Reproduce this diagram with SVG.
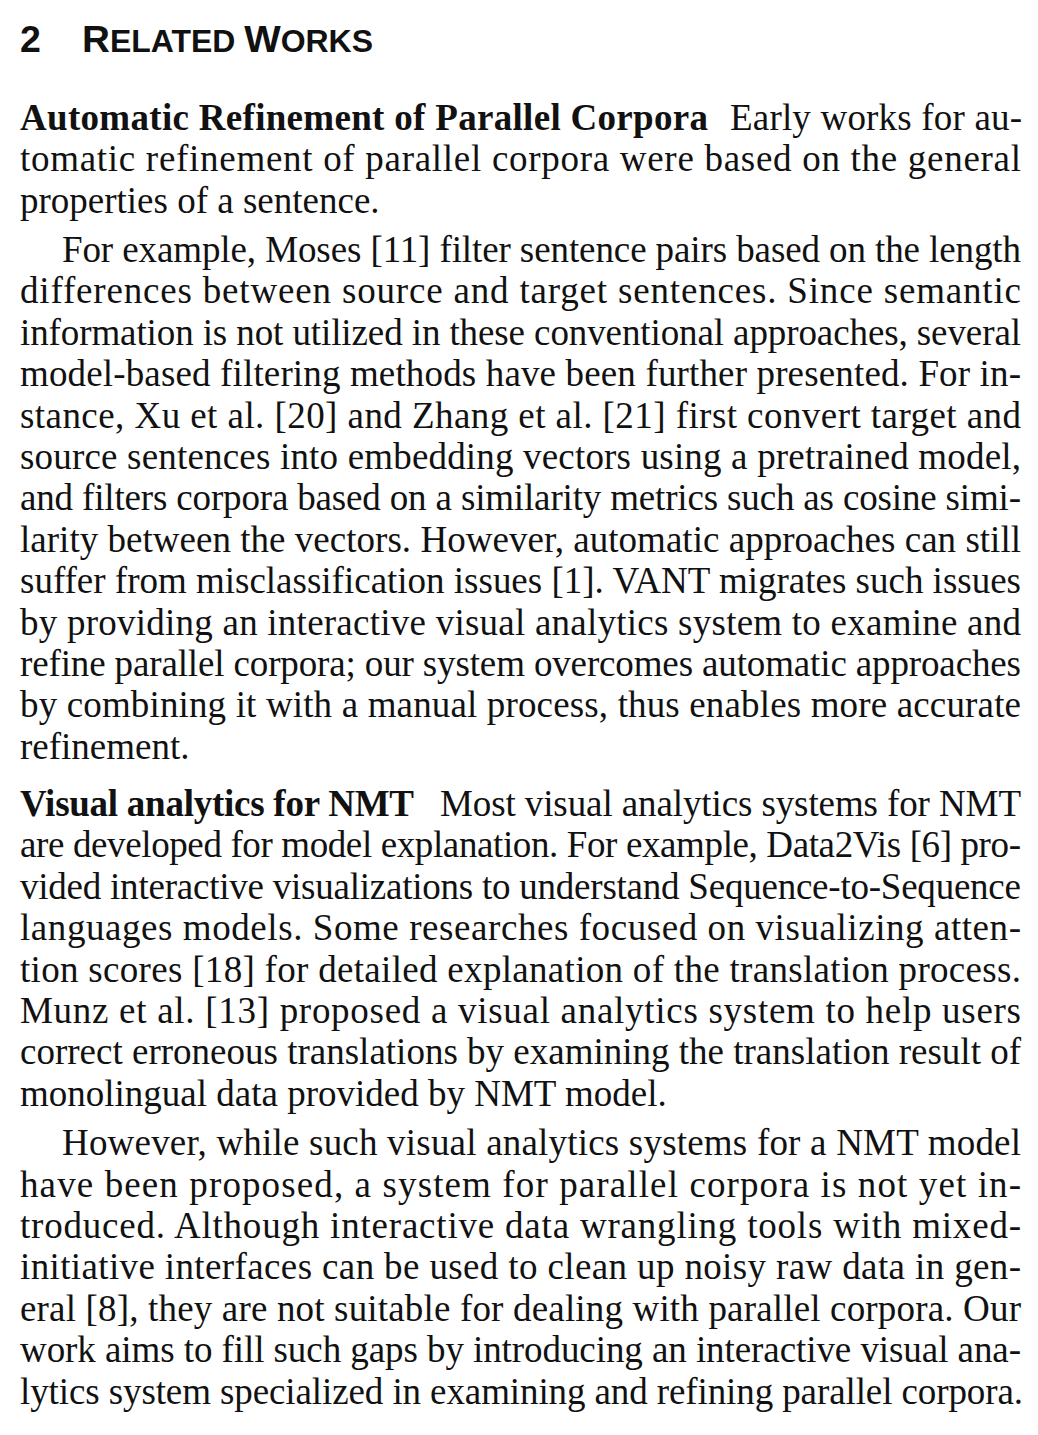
<svg xmlns="http://www.w3.org/2000/svg" width="1038" height="1435" viewBox="0 0 1038 1435">
<style>
.t{font-family:"Liberation Serif","Times New Roman",serif;font-size:37px;fill:#111;}
.b{font-weight:bold;}
.h{font-family:"Liberation Sans",Arial,sans-serif;font-weight:bold;fill:#111;}
</style>
<rect width="1038" height="1435" fill="#fff"/>
<g id="title">
<text class="h" x="20" y="52" font-size="37.5">2</text>
<text class="h" x="82" y="52" font-size="31" textLength="291" lengthAdjust="spacingAndGlyphs"><tspan font-size="37.5">R</tspan>ELATED <tspan font-size="37.5">W</tspan>ORKS</text>
</g>
<g id="para1">
<text class="t b" x="20" y="130" textLength="688">Automatic Refinement of Parallel Corpora</text>
<text class="t" x="730" y="130" textLength="292">Early works for au-</text>
<text class="t" x="20" y="171.4" textLength="1001">tomatic refinement of parallel corpora were based on the general</text>
<text class="t" x="20" y="212.8">properties of a sentence.</text>
</g>
<g id="para2">
<text class="t" x="62" y="262" textLength="959">For example, Moses [11] filter sentence pairs based on the length</text>
<text class="t" x="20" y="303.4" textLength="1001">differences between source and target sentences. Since semantic</text>
<text class="t" x="20" y="344.8" textLength="1001">information is not utilized in these conventional approaches, several</text>
<text class="t" x="20" y="386.2" textLength="1001">model-based filtering methods have been further presented. For in-</text>
<text class="t" x="20" y="427.6" textLength="1001">stance, Xu et al. [20] and Zhang et al. [21] first convert target and</text>
<text class="t" x="20" y="469" textLength="1001">source sentences into embedding vectors using a pretrained model,</text>
<text class="t" x="20" y="510.4" textLength="1001">and filters corpora based on a similarity metrics such as cosine simi-</text>
<text class="t" x="20" y="551.8" textLength="1001">larity between the vectors. However, automatic approaches can still</text>
<text class="t" x="20" y="593.2" textLength="1001">suffer from misclassification issues [1]. VANT migrates such issues</text>
<text class="t" x="20" y="634.6" textLength="1001">by providing an interactive visual analytics system to examine and</text>
<text class="t" x="20" y="676" textLength="1001">refine parallel corpora; our system overcomes automatic approaches</text>
<text class="t" x="20" y="717.4" textLength="1001">by combining it with a manual process, thus enables more accurate</text>
<text class="t" x="20" y="758.8">refinement.</text>
</g>
<g id="para3">
<text class="t b" x="20" y="816" textLength="394">Visual analytics for NMT</text>
<text class="t" x="440" y="816" textLength="581">Most visual analytics systems for NMT</text>
<text class="t" x="20" y="857.4" textLength="1001">are developed for model explanation. For example, Data2Vis [6] pro-</text>
<text class="t" x="20" y="898.8" textLength="1001">vided interactive visualizations to understand Sequence-to-Sequence</text>
<text class="t" x="20" y="940.2" textLength="1001">languages models. Some researches focused on visualizing atten-</text>
<text class="t" x="20" y="981.6" textLength="1001">tion scores [18] for detailed explanation of the translation process.</text>
<text class="t" x="20" y="1023" textLength="1001">Munz et al. [13] proposed a visual analytics system to help users</text>
<text class="t" x="20" y="1064.4" textLength="1001">correct erroneous translations by examining the translation result of</text>
<text class="t" x="20" y="1105.8">monolingual data provided by NMT model.</text>
</g>
<g id="para4">
<text class="t" x="62" y="1155.2" textLength="959">However, while such visual analytics systems for a NMT model</text>
<text class="t" x="20" y="1196.6" textLength="1001">have been proposed, a system for parallel corpora is not yet in-</text>
<text class="t" x="20" y="1238" textLength="1001">troduced. Although interactive data wrangling tools with mixed-</text>
<text class="t" x="20" y="1279.4" textLength="1001">initiative interfaces can be used to clean up noisy raw data in gen-</text>
<text class="t" x="20" y="1320.8" textLength="1001">eral [8], they are not suitable for dealing with parallel corpora. Our</text>
<text class="t" x="20" y="1362.2" textLength="1001">work aims to fill such gaps by introducing an interactive visual ana-</text>
<text class="t" x="20" y="1403.6" textLength="1003">lytics system specialized in examining and refining parallel corpora.</text>
</g>
</svg>
